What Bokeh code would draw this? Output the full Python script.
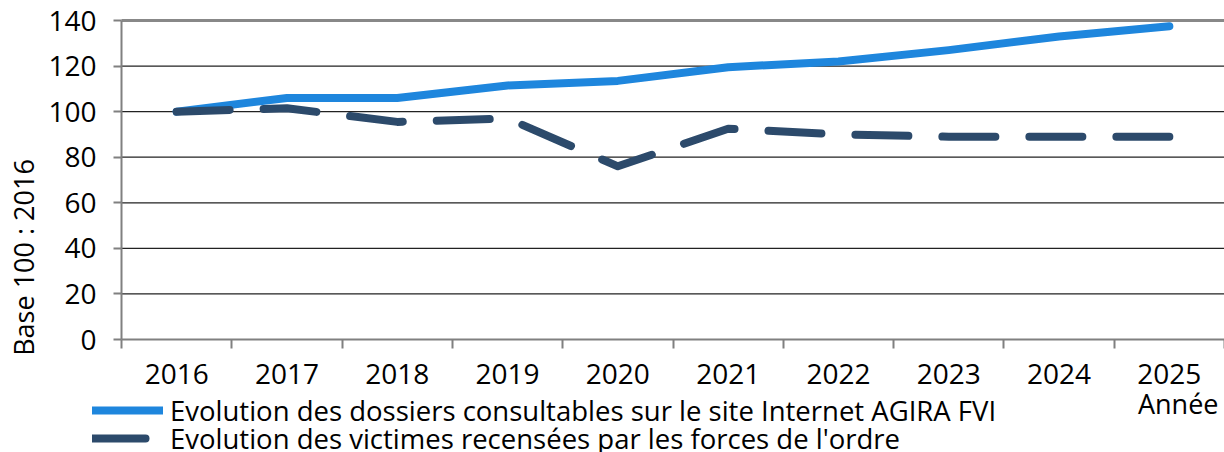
import math
from bokeh.plotting import figure
from bokeh.models import (Range1d, FixedTicker, Legend, LegendItem, Label, LinearAxis,
                          ColumnDataSource)
from bokeh.embed import file_html
from bokeh.resources import INLINE

years = ["2016", "2017", "2018", "2019", "2020", "2021", "2022", "2023", "2024", "2025"]
dossiers = [100, 106, 106, 111.5, 113.5, 119.5, 122, 127, 133, 137.5]
victimes = [100, 101.5, 95.5, 97, 76, 92.5, 90, 89, 89, 89]
y_ticks = [0, 20, 40, 60, 80, 100, 120, 140]
label_dossiers = "Evolution des dossiers consultables sur le site Internet AGIRA FVI"
label_victimes = "Evolution des victimes recensées par les forces de l'ordre"
x_title = "Année"
y_title = "Base 100 : 2016"

FONT = "Open Sans"
FS_TICK = "28px"
FS_LEG = "27.5px"
FS_TITLE = "27px"

W, H = 1224, 452
# plot-area geometry in pixels (left, top, bottom of the value area)
PL, PT, PB = 121, 20, 339
n = len(years)
px_per_cat = (W - PL) / n
px_per_unit = (PB - PT) / 140.0

xpos = [i + 0.5 for i in range(n)]
src = ColumnDataSource(dict(x=xpos, d=dossiers, v=victimes))
grid_src = ColumnDataSource(dict(y=y_ticks[1:-1]))

p = figure(width=W, height=H, output_backend="svg", toolbar_location=None,
           x_range=Range1d(-PL / px_per_cat, n),
           y_range=Range1d(-(H - PB) / px_per_unit, 140 + PT / px_per_unit),
           x_axis_location=None, y_axis_location=None,
           min_border=0)
p.outline_line_color = None
p.background_fill_color = "white"
p.xgrid.visible = False
p.ygrid.visible = False

# grid lines across the value area only
p.segment(x0=0, x1=n, y0="y", y1="y", source=grid_src, line_color="#222222", line_width=1.2)
p.segment(x0=[0], x1=[n], y0=[140], y1=[140], line_color="#888888", line_width=3)

xaxis = LinearAxis(fixed_location=0, bounds=(0, n),
                   ticker=FixedTicker(ticks=xpos, minor_ticks=list(range(n + 1))))
xaxis.major_label_overrides = {x: y for x, y in zip(xpos, years)}
xaxis.major_tick_out = 0
xaxis.major_tick_in = 0
xaxis.minor_tick_out = 9
xaxis.minor_tick_in = 0
xaxis.minor_tick_line_color = "#808080"
xaxis.minor_tick_line_width = 2
xaxis.major_label_standoff = 15

yaxis = LinearAxis(fixed_location=0, bounds=(0, 140), ticker=FixedTicker(ticks=y_ticks))
yaxis.major_tick_out = 8
yaxis.major_tick_in = 0
yaxis.minor_tick_out = 0
yaxis.minor_tick_in = 0
yaxis.major_tick_line_color = "#808080"
yaxis.major_tick_line_width = 2
yaxis.major_label_standoff = 17

for ax in (xaxis, yaxis):
    ax.axis_line_color = "#808080"
    ax.axis_line_width = 2
    ax.major_label_text_font = FONT
    ax.major_label_text_font_size = FS_TICK
    ax.major_label_text_color = "black"

p.add_layout(xaxis, "below")
p.add_layout(yaxis, "left")

r1 = p.line("x", "d", source=src, line_color="#1E86DD", line_width=8, line_cap="round",
            line_join="round")
r2 = p.line("x", "v", source=src, line_color="#2C4A6B", line_width=8, line_cap="round",
            line_join="round", line_dash="53 34")

ROW_H = 40
for lab, rend, center_y in ((label_dossiers, r1, 410), (label_victimes, r2, 438)):
    lg = Legend(items=[LegendItem(label=lab, renderers=[rend])],
                location=(92, H - center_y - ROW_H / 2), orientation="vertical",
                glyph_width=71, glyph_height=ROW_H, label_height=ROW_H, label_standoff=7,
                spacing=0, padding=0, margin=0, border_line_color=None,
                background_fill_alpha=0, label_text_font=FONT, label_text_font_size=FS_LEG,
                label_text_color="black")
    p.add_layout(lg)

p.add_layout(Label(x=1218, y=H - 403, x_units="screen", y_units="screen", text=x_title,
                   text_align="right", text_baseline="alphabetic", text_font=FONT,
                   text_font_size=FS_TITLE, text_color="black"))
p.add_layout(Label(x=23, y=H - 257, x_units="screen", y_units="screen", text=y_title,
                   angle=math.pi / 2, text_align="center", text_baseline="middle",
                   text_font=FONT, text_font_size=FS_TITLE, text_color="black"))

open("out.html", "w").write(file_html(p, INLINE))
